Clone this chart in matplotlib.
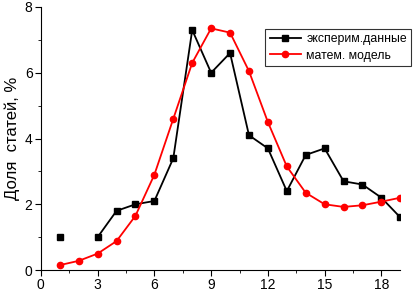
import numpy as np
import matplotlib
matplotlib.use("Agg")
import matplotlib.pyplot as plt
from matplotlib.ticker import MultipleLocator

plt.rcParams['font.family'] = ['Liberation Sans', 'DejaVu Sans']

x = np.arange(1, 20)
exp_vals = [1.0, np.nan, 1.0, 1.8, 2.0, 2.1, 3.4, 7.3, 6.0, 6.6, 4.1, 3.7, 2.4, 3.5, 3.7, 2.7, 2.6, 2.2, 1.6]
model_vals = [0.15, 0.28, 0.5, 0.88, 1.65, 2.9, 4.6, 6.3, 7.35, 7.22, 6.05, 4.5, 3.15, 2.35, 2.0, 1.92, 1.97, 2.08, 2.2]
label_exp = "эксперим.данные"
label_model = "матем. модель"
ylabel = "Доля  статей, %"

fig = plt.figure(figsize=(4.17, 2.91), dpi=100)
ax = fig.add_axes([0.098, 0.072, 0.862, 0.904])

ax.plot(x, exp_vals, color='black', marker='s', markersize=4.5, linewidth=1.3, label=label_exp)
ax.plot(x, model_vals, color='red', marker='o', markersize=4.5, linewidth=1.3, label=label_model)

ax.set_xlim(0, 19)
ax.set_ylim(0, 8)
ax.xaxis.set_major_locator(MultipleLocator(3))
ax.xaxis.set_minor_locator(MultipleLocator(1.5))
ax.yaxis.set_major_locator(MultipleLocator(2))
ax.yaxis.set_minor_locator(MultipleLocator(1))
ax.tick_params(which='major', direction='out', length=4, labelsize=10, pad=2)
ax.tick_params(which='minor', direction='out', length=2)
ax.spines['top'].set_visible(False)
ax.spines['right'].set_visible(False)
ax.set_ylabel(ylabel, fontsize=12, labelpad=3)

leg = ax.legend(loc='upper right', bbox_to_anchor=(1.03, 0.916), borderaxespad=0,
                fontsize=8.8, frameon=True,
                fancybox=False, edgecolor='black', handlelength=2.6, borderpad=0.35,
                labelspacing=0.35, handletextpad=0.4)
leg.get_frame().set_linewidth(0.8)

fig.savefig("out.png", dpi=100)
